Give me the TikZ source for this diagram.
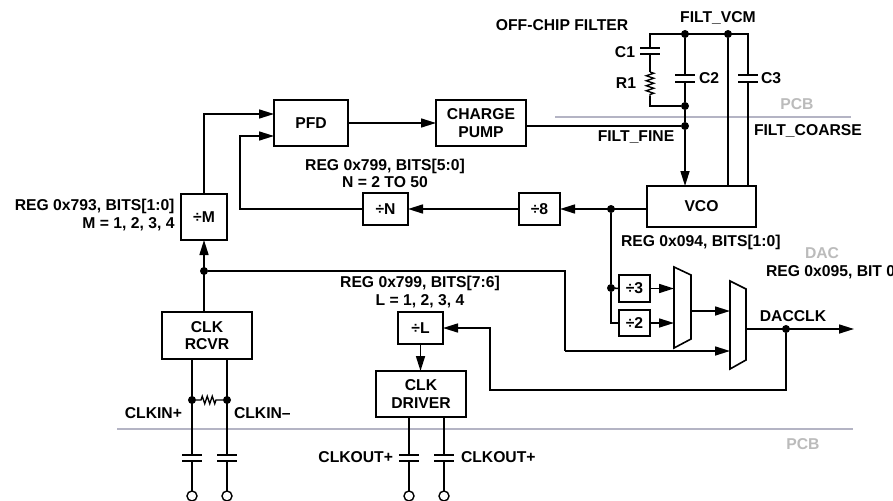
\documentclass[tikz,border=0pt]{standalone}
\usepackage{fontspec}
\setmainfont{Liberation Sans}
\definecolor{mPcb}{HTML}{B4B4C4}
\definecolor{mPcbText}{HTML}{BBBBBB}
\usetikzlibrary{arrows.meta, decorations.pathmorphing}

\begin{document}
\begin{tikzpicture}[x=1pt, y=-1pt, line width=1.6pt,
  every node/.style={font=\fontsize{15.7}{17.5}\selectfont\bfseries, inner sep=0pt, outer sep=0pt, align=center},
  box/.style={draw, line width=1.6pt, fill=white},
  lbl/.style={align=center},
  pcbline/.style={draw=mPcb, line width=1.6pt},
  pcbtext/.style={text=mPcbText},
  wire/.style={draw=black, line width=1.6pt},
  arr/.style={wire, -{Triangle[length=15pt, width=9pt]}},
  dot/.style={circle, fill=black, minimum size=8pt},
  term/.style={circle, draw, fill=white, line width=1.4pt, minimum size=10pt},
  capnode/.style={minimum width=20pt, minimum height=6.5pt},
  res/.style={wire, line width=1.3pt, decorate, decoration={zigzag, segment length=5pt, amplitude=3.8pt}}]

  \useasboundingbox (0,0) rectangle (893,500);

  % pcb edges
  \coordinate (pcbUa) at (555,117);
  \coordinate (pcbUb) at (851,117);
  \coordinate (pcbLa) at (117,429);
  \coordinate (pcbLb) at (853,429);
  \draw[pcbline] (pcbUa) -- (pcbUb);
  \draw[pcbline] (pcbLa) -- (pcbLb);
  \node[pcbtext] (pcbU) at (797,104) {PCB};
  \node[pcbtext] (pcbL) at (803,444) {PCB};
  \node[pcbtext] (dac) at (822,253) {DAC};

  % blocks
  \node[box, minimum width=74pt, minimum height=46pt] (pfd) at (311,123) {PFD};
  \node[box, minimum width=90pt, minimum height=46pt] (pump) at (481,123) {CHARGE\\PUMP};
  \node[box, minimum width=46pt, minimum height=46pt] (divM) at (204,217) {÷M};
  \node[box, minimum width=45pt, minimum height=32pt] (divN) at (385.5,209) {÷N};
  \node[box, minimum width=41pt, minimum height=32pt] (div8) at (539.5,209) {÷8};
  \node[box, minimum width=109pt, minimum height=41pt] (vco) at (701.5,206.5) {VCO};
  \node[box, minimum width=31pt, minimum height=27pt] (div3) at (634.5,288.5) {÷3};
  \node[box, minimum width=31pt, minimum height=26pt] (div2) at (634.5,323) {÷2};
  \node[box, minimum width=90pt, minimum height=47pt] (rcvr) at (207,335.5) {CLK\\RCVR};
  \node[box, minimum width=45pt, minimum height=32pt] (divL) at (420.5,328) {÷L};
  \node[box, minimum width=90pt, minimum height=46pt] (driver) at (421,394) {CLK\\DRIVER};

  % muxes
  \draw[wire, line join=miter] (674,267) coordinate (muxAa) -- (691,275) -- (691,339) -- (674,348) -- cycle;
  \draw[wire, line join=miter] (730,281) coordinate (muxBa) -- (746,289) -- (746,360) -- (730,369) -- cycle;
  \coordinate (muxAe) at (691,311);
  \coordinate (muxBe) at (746,329);

  % junctions
  \node[dot] (vcmA) at (685,34) {};
  \node[dot] (vcmB) at (728,34) {};
  \node[dot] (fltA) at (685,106) {};
  \node[dot] (fine) at (685,126) {};
  \node[dot] (vcoOut) at (611,209) {};
  \node[dot] (vcoDiv) at (611,288) {};
  \node[dot] (ref) at (204,271) {};
  \node[dot] (dacclk) at (786,329) {};
  \node[dot] (inP) at (192,400) {};
  \node[dot] (inN) at (227,400) {};
  \coordinate (out) at (854,329);
  \coordinate (pfdA) at (274,114);
  \coordinate (pfdB) at (274,136);
  \coordinate (fb) at (240,209);

  % capacitors
  \foreach \n/\x/\y in {capA/650/51, capB/685/78.5, capC/748/78.5,
                        capP/192/458, capN/227/458, capQ/409/458, capR/444/458}{
    \node[capnode] (\n) at (\x,\y) {};
    \draw[wire] (\n.north west) -- (\n.north east);
    \draw[wire] (\n.south west) -- (\n.south east);}

  % terminals
  \foreach \n/\x in {termP/192, termN/227, termQ/409, termR/444}{
    \node[term] (\n) at (\x,496) {};}

  % filter
  \coordinate (vcmL) at (650,34);
  \coordinate (vcmR) at (748,34);
  \coordinate (resT) at (650,72);
  \coordinate (resB) at (650,96);
  \coordinate (resE) at (650,106);
  \draw[wire] (capA.north) -- (vcmL) -- (vcmR) -- (capC.north);
  \draw[wire] (capA.south) -- (resT);
  \draw[res] (resT) -- (resB);
  \draw[wire] (resB) -- (resE) -- (fltA);
  \draw[wire] (vcmA) -- (capB.north);
  \draw[wire] (capB.south) -- (fltA) -- (fine);
  \draw[wire] (vcmB) -- (vcmB |- vco.north);
  \draw[wire] (capC.south) -- (capC.south |- vco.north);

  % main loop
  \draw[arr] (pfd.east) -- (pump.west);
  \draw[wire] (fine -| pump.east) -- (fine);
  \draw[arr] (fine) -- (fine |- vco.north);
  \draw[arr] (vco.west |- vcoOut) -- (div8.east);
  \draw[arr] (div8.west) -- (divN.east);
  \draw[arr] (divN.west) -- (fb) -- (fb |- pfdB) -- (pfdB);
  \draw[arr] (divM.north) |- (pfdA);
  \draw[arr] (rcvr.north -| divM.south) -- (divM.south);

  % dac clock
  \draw[wire] (vcoOut) -- (vcoDiv);
  \draw[wire] (vcoDiv) -- (div3.west);
  \draw[wire] (vcoDiv) |- (div2.west);
  \draw[arr] (div3.east) -- (div3.east -| muxAa);
  \draw[arr] (div2.east) -- (div2.east -| muxAa);
  \draw[arr] (muxAe) -- (muxAe -| muxBa);
  \draw[wire] (ref) -- (565,271) -- (565,351) coordinate (refE);
  \draw[arr] (refE) -- (refE -| muxBa);
  \draw[arr] (muxBe) -- (out);
  \draw[arr] (dacclk) -- (786,390) -- (490,390) -- (490,328) -- (divL.east);
  \draw[arr] (divL.south) -- (divL.south |- driver.north);

  % clock pins
  \draw[wire] (inP |- rcvr.south) -- (capP.north);
  \draw[wire] (inN |- rcvr.south) -- (capN.north);
  \draw[wire] (capQ.north |- driver.south) -- (capQ.north);
  \draw[wire] (capR.north |- driver.south) -- (capR.north);
  \foreach \a/\b in {capP/termP, capN/termN, capQ/termQ, capR/termR}{
    \draw[wire] (\a.south) -- (\b.north);}
  \draw[res, decoration={pre length=5pt, post length=5pt}] (inP) -- (inN);

  % labels
  \node[lbl] (offchip) at (562,25) {OFF-CHIP FILTER};
  \node[lbl] (vcmText) at (718,18) {FILT\_VCM};
  \node[lbl, anchor=east] (c1Text) at (635,52) {C1};
  \node[lbl, anchor=east] (r1Text) at (636,83) {R1};
  \node[lbl, anchor=west] (c2Text) at (699,78) {C2};
  \node[lbl, anchor=west] (c3Text) at (761,78) {C3};
  \node[lbl, anchor=west] (coarseText) at (754,131) {FILT\_COARSE};
  \node[lbl] (fineText) at (636,137) {FILT\_FINE};
  \node[lbl] (regN) at (385,173.5) {REG 0x799, BITS[5:0]\\N = 2 TO 50};
  \node[lbl, align=right, anchor=east] (regM) at (174.5,215) {REG 0x793, BITS[1:0]\\M = 1, 2, 3, 4};
  \node[lbl] (regL) at (420,292) {REG 0x799, BITS[7:6]\\L = 1, 2, 3, 4};
  \node[lbl, anchor=west] (regV) at (621,242) {REG 0x094, BITS[1:0]};
  \node[lbl, anchor=west] (regD) at (766,272) {REG 0x095, BIT 0};
  \node[lbl] (clkText) at (793,316) {DACCLK};
  \node[lbl, anchor=east] (inPText) at (182,413) {CLKIN+};
  \node[lbl, anchor=west] (inNText) at (234,413) {CLKIN–};
  \node[lbl, anchor=east] (outPText) at (393,457) {CLKOUT+};
  \node[lbl, anchor=west] (outNText) at (461,457) {CLKOUT+};
\end{tikzpicture}
\end{document}
